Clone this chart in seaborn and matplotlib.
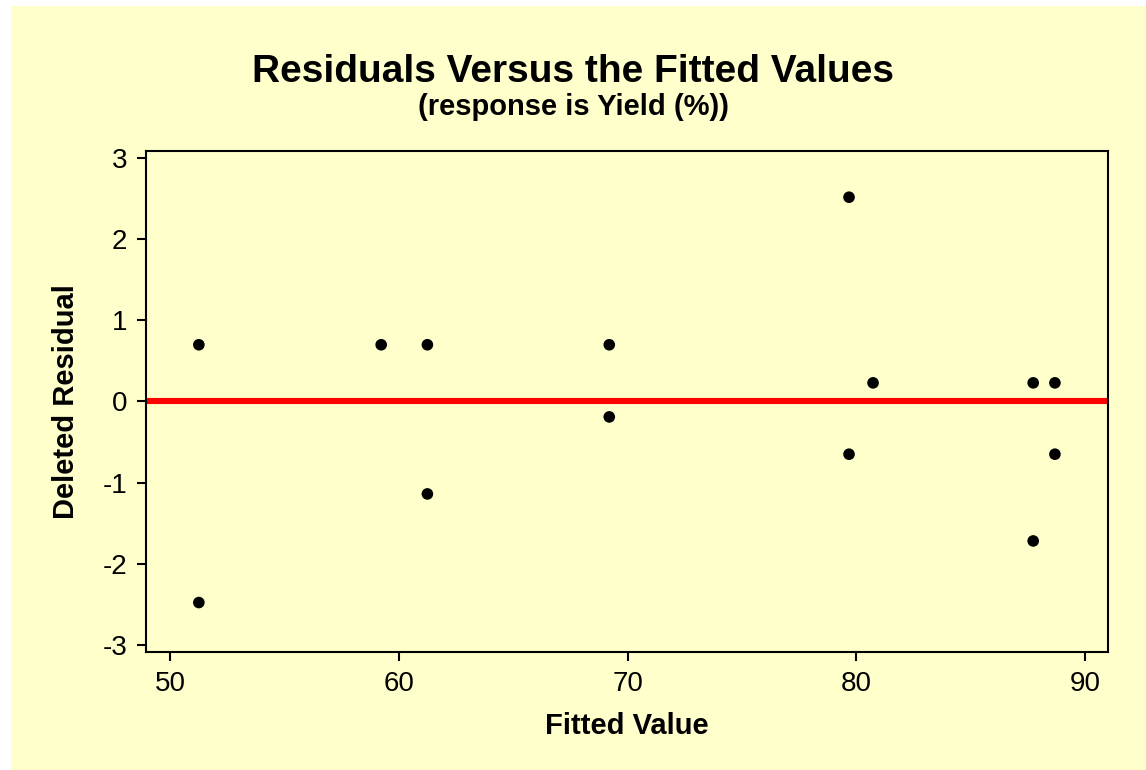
import matplotlib
matplotlib.use("Agg")
import matplotlib.pyplot as plt
import seaborn as sns
import pandas as pd
from matplotlib.patches import Rectangle

# Fitted values and deleted residuals from the yield model
fitted = [51.26, 51.26, 59.23, 61.25, 61.25, 69.20, 69.20,
          79.68, 79.68, 80.73, 87.73, 87.73, 88.68, 88.68]
deleted_resid = [0.70, -2.48, 0.70, 0.70, -1.14, 0.70, -0.19,
                 2.52, -0.65, 0.23, 0.23, -1.72, 0.23, -0.65]
x_ticks = [50, 60, 70, 80, 90]
y_ticks = [-3, -2, -1, 0, 1, 2, 3]
reference_level = 0

df = pd.DataFrame({"Fitted Value": fitted, "Deleted Residual": deleted_resid})

sns.set_theme(style="ticks")
plt.rcParams["font.family"] = ["Liberation Sans", "DejaVu Sans"]
plt.rcParams["axes.unicode_minus"] = False
plt.rcParams["text.color"] = "black"
plt.rcParams["axes.labelcolor"] = "black"

bg = "#FFFFCC"
fig = plt.figure(figsize=(11.46, 7.70), dpi=100, facecolor="white")
fig.patches.append(Rectangle((11 / 1146, 0), 1 - 11 / 1146, 1 - 6 / 770,
                             transform=fig.transFigure, facecolor=bg,
                             edgecolor="none", zorder=-10))

ax = fig.add_axes([146 / 1146, 1 - 652 / 770, (1108 - 146) / 1146, (652 - 151) / 770])
ax.set_facecolor(bg)

sns.scatterplot(data=df, x="Fitted Value", y="Deleted Residual", ax=ax,
                color="black", s=70, edgecolor="none", zorder=3)
ax.axhline(reference_level, color="#FF0000", lw=4.4, zorder=2)

ax.set_xlim(48.95, 91.0)
ax.set_ylim(-3.09, 3.09)
ax.set_xticks(x_ticks)
ax.set_yticks(y_ticks)

for side in ["top", "right", "left", "bottom"]:
    ax.spines[side].set_visible(True)
    ax.spines[side].set_linewidth(1.5)
    ax.spines[side].set_color("black")

ax.tick_params(axis="both", direction="out", length=6.5, width=1.5,
               color="black", labelsize=20, labelcolor="black", pad=7)

ax.set_xlabel("Fitted Value", fontsize=21, fontweight="bold", labelpad=11,
              color="black")
ax.set_ylabel("Deleted Residual", fontsize=21, fontweight="bold", labelpad=16,
              color="black")

fig.text(0.5, 1 - 82 / 770, "Residuals Versus the Fitted Values",
         ha="center", va="baseline", fontsize=28, fontweight="bold",
         color="black")
fig.text(0.5, 1 - 115 / 770, "(response is Yield (%))",
         ha="center", va="baseline", fontsize=21, fontweight="bold",
         color="black")

fig.savefig("out.png", dpi=100, facecolor=fig.get_facecolor())
